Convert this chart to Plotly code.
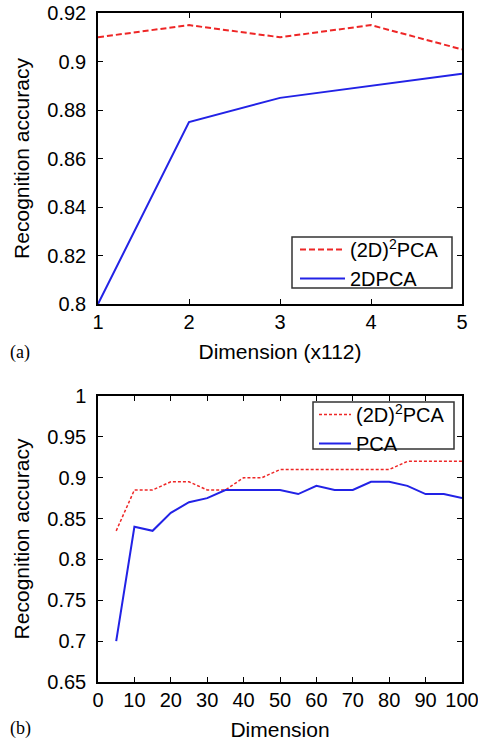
import plotly.graph_objects as go

# Panel (a)
dims_a = [1, 2, 3, 4, 5]
acc_2d2pca_a = [0.910, 0.915, 0.910, 0.915, 0.905]
acc_2dpca_a = [0.800, 0.875, 0.885, 0.890, 0.895]
yticks_a = [0.80, 0.82, 0.84, 0.86, 0.88, 0.90, 0.92]
yticklabels_a = ["0.8", "0.82", "0.84", "0.86", "0.88", "0.9", "0.92"]
xticks_a = [1, 2, 3, 4, 5]

# Panel (b)
dims_b = [5, 10, 15, 20, 25, 30, 35, 40, 45, 50, 55, 60, 65, 70, 75, 80, 85, 90, 95, 100]
acc_2d2pca_b = [0.835, 0.885, 0.885, 0.895, 0.895, 0.885, 0.885, 0.900, 0.900, 0.910,
                0.910, 0.910, 0.910, 0.910, 0.910, 0.910, 0.920, 0.920, 0.920, 0.920]
acc_pca_b = [0.700, 0.840, 0.835, 0.857, 0.870, 0.875, 0.885, 0.885, 0.885, 0.885,
             0.880, 0.890, 0.885, 0.885, 0.895, 0.895, 0.890, 0.880, 0.880, 0.875]
yticks_b = [0.65, 0.70, 0.75, 0.80, 0.85, 0.90, 0.95, 1.00]
yticklabels_b = ["0.65", "0.7", "0.75", "0.8", "0.85", "0.9", "0.95", "1"]
xticks_b = list(range(0, 101, 10))

RED = "#ee2626"
BLUE = "#2222e6"
FONT = "Liberation Sans, Arial, sans-serif"
TICK = 20
TITLE = 21

fig = go.Figure()
fig.add_trace(go.Scatter(x=dims_a, y=acc_2d2pca_a, mode="lines", name="(2D)<sup>2</sup>PCA",
                         line=dict(color=RED, width=2, dash="6px,3px"), xaxis="x", yaxis="y", legend="legend"))
fig.add_trace(go.Scatter(x=dims_a, y=acc_2dpca_a, mode="lines", name="2DPCA",
                         line=dict(color=BLUE, width=2), xaxis="x", yaxis="y", legend="legend"))
fig.add_trace(go.Scatter(x=dims_b, y=acc_2d2pca_b, mode="lines", name="(2D)<sup>2</sup>PCA",
                         line=dict(color=RED, width=1.5, dash="3px,2px"), xaxis="x2", yaxis="y2", legend="legend2"))
fig.add_trace(go.Scatter(x=dims_b, y=acc_pca_b, mode="lines", name="PCA",
                         line=dict(color=BLUE, width=2), xaxis="x2", yaxis="y2", legend="legend2"))

W, H = 478, 741
def px(x): return x / W
def py(y): return 1 - y / H

axis_common = dict(showline=True, linecolor="black", linewidth=1.5, mirror="ticks",
                   ticks="inside", ticklen=5, tickcolor="black", showgrid=False, zeroline=False,
                   automargin=False, ticklabeloverflow="allow",
                   tickfont=dict(family=FONT, size=TICK, color="black"))

legend_box = dict(type="rect", xref="paper", yref="paper", line=dict(color="#333333", width=1.5),
                  fillcolor="rgba(0,0,0,0)", layer="above")

fig.update_layout(
    width=W, height=H, margin=dict(l=0, r=0, t=0, b=0),
    paper_bgcolor="white", plot_bgcolor="white",
    font=dict(family=FONT, size=TITLE, color="black"),
    xaxis=dict(domain=[px(98), px(462)], range=[1, 5], tickvals=xticks_a, anchor="y",
               ticklabelstandoff=-1,
               title=dict(text="Dimension (x112)", font=dict(size=TITLE), standoff=13), **axis_common),
    yaxis=dict(domain=[py(304), py(13)], range=[0.80, 0.92], tickvals=yticks_a, ticktext=yticklabels_a,
               anchor="x", ticklabelstandoff=6,
               title=dict(text="Recognition accuracy", font=dict(size=TITLE), standoff=12), **axis_common),
    xaxis2=dict(domain=[px(98), px(462)], range=[0, 100], tickvals=xticks_b, anchor="y2",
                ticklabelstandoff=-1,
                title=dict(text="Dimension", font=dict(size=TITLE), standoff=13), **axis_common),
    yaxis2=dict(domain=[py(682), py(396)], range=[0.65, 1.0], tickvals=yticks_b, ticktext=yticklabels_b,
                anchor="x2", ticklabelstandoff=6,
                title=dict(text="Recognition accuracy", font=dict(size=TITLE), standoff=12), **axis_common),
    legend=dict(x=px(295), y=py(230), xanchor="left", yanchor="top",
                borderwidth=0, bgcolor="rgba(0,0,0,0)",
                font=dict(family=FONT, size=TICK), tracegroupgap=0, itemwidth=45),
    legend2=dict(x=px(314), y=py(395), xanchor="left", yanchor="top",
                 borderwidth=0, bgcolor="rgba(0,0,0,0)",
                 font=dict(family=FONT, size=TICK), tracegroupgap=0, itemwidth=32),
    showlegend=True,
    shapes=[
        dict(legend_box, x0=px(292), x1=px(452), y0=py(288), y1=py(237)),
        dict(legend_box, x0=px(313), x1=px(454), y0=py(449), y1=py(402)),
    ],
    annotations=[
        dict(text="(a)", x=px(8), y=py(353), xref="paper", yref="paper", xanchor="left", yanchor="middle",
             showarrow=False, font=dict(family="Liberation Serif, Times New Roman, serif", size=18)),
        dict(text="(b)", x=px(8), y=py(728), xref="paper", yref="paper", xanchor="left", yanchor="middle",
             showarrow=False, font=dict(family="Liberation Serif, Times New Roman, serif", size=18)),
    ],
)

fig.write_html("out.html", config={"displayModeBar": False},
               post_script="document.body.style.margin='0';")
